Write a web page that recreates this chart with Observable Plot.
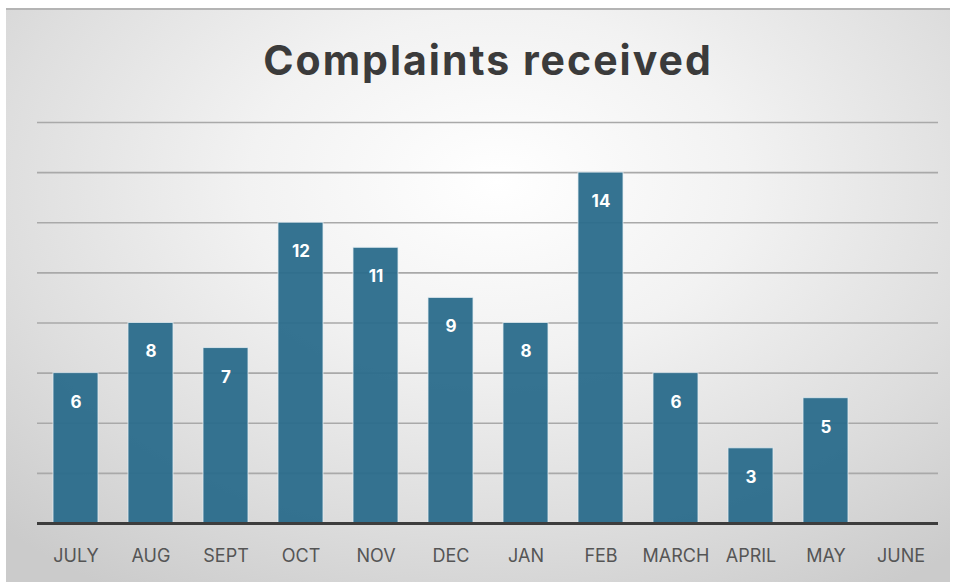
<!DOCTYPE html>
<html>
<head>
<meta charset="utf-8">
<script src="https://cdn.jsdelivr.net/npm/d3@7"></script>
<script src="https://cdn.jsdelivr.net/npm/@observablehq/plot@0.6"></script>
<style>
  html, body { margin: 0; padding: 0; background: #ffffff; width: 954px; height: 582px; overflow: hidden; }
  #frame {
    position: absolute; left: 6px; top: 8px; width: 944px; height: 574px;
    border-top: 2px solid #b4b4b4; box-sizing: border-box;
    background: radial-gradient(ellipse 75% 85% at 52% 30%, #ffffff 0%, #f2f2f2 35%, #dedede 70%, #cbcbcb 100%);
  }
  #title {
    position: absolute; left: 10px; top: 0; width: 944px; height: 100px;
    text-align: center; font-family: Inter, "Open Sans", sans-serif; font-weight: 700;
    font-size: 41px; color: #3b3b3b; line-height: 100px; letter-spacing: 2px;
  }
  #chart { position: absolute; left: 0; top: 90px; }
</style>
</head>
<body>
<div id="frame">
  <div id="title">Complaints received</div>
  <div id="chart"></div>
</div>
<script>
const months = ["JULY", "AUG", "SEPT", "OCT", "NOV", "DEC", "JAN", "FEB", "MARCH", "APRIL", "MAY", "JUNE"];
const complaints = [6, 8, 7, 12, 11, 9, 8, 14, 6, 3, 5, null];
const gridTicks = [2, 4, 6, 8, 10, 12, 14, 16];

const data = months.map((m, i) => ({month: m, value: complaints[i]}));
const present = data.filter(d => d.value != null);

const chart = Plot.plot({
  width: 944,
  height: 480,
  marginTop: 22,
  marginLeft: 31,
  marginRight: 12,
  marginBottom: 57,
  style: {background: "transparent", fontFamily: "Inter, 'Open Sans', sans-serif", overflow: "visible"},
  x: {domain: months, paddingInner: 0.4, paddingOuter: 0.2, label: null, tickSize: 0},
  y: {domain: [0, 16], axis: null},
  marks: [
    Plot.ruleY(gridTicks, {stroke: "#a9a9a9", strokeWidth: 1.6}),
    Plot.barY(present, {x: "month", y: "value", fill: "#2a6b8b", fillOpacity: 0.95, stroke: "#e4eef3", strokeWidth: 1, strokeOpacity: 0.8}),
    Plot.text(present, {x: "month", y: "value", text: d => String(d.value), dy: 29, fill: "white", fontWeight: "bold", fontSize: 17}),
    Plot.ruleY([0], {stroke: "#3d3d3d", strokeWidth: 3}),
    Plot.axisX({tickSize: 0, tickPadding: 26, fontSize: 18, fill: "#555555", label: null})
  ]
});
document.getElementById("chart").appendChild(chart);
</script>
</body>
</html>
